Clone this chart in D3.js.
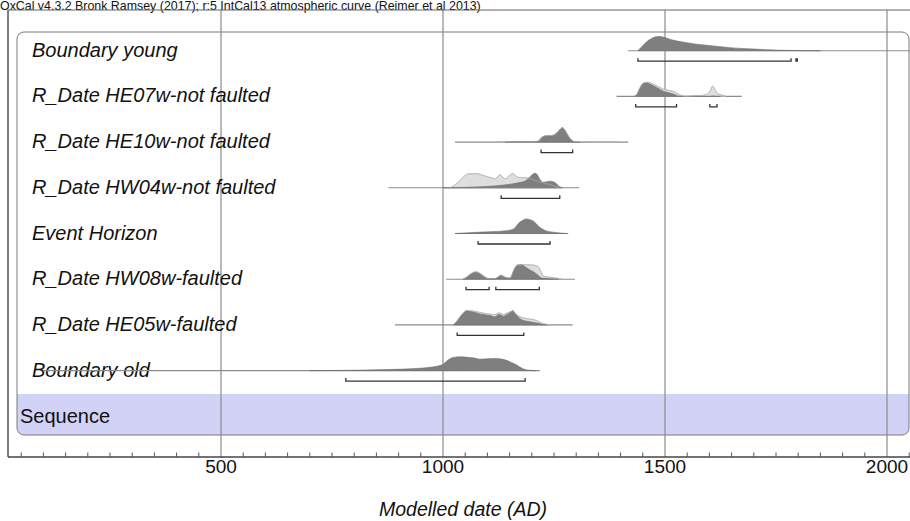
<!DOCTYPE html>
<html>
<head>
<meta charset="utf-8">
<script src="https://cdn.jsdelivr.net/npm/d3@7"></script>
<style>
  html, body { margin: 0; padding: 0; background: #fff; }
  svg { display: block; }
  text { font-family: "Liberation Sans", Arial, sans-serif; }
</style>
</head>
<body>
<svg id="chart" width="910" height="521"></svg>
<script>
// ---------- data ----------
const headerText = "OxCal v4.3.2 Bronk Ramsey (2017); r:5 IntCal13 atmospheric curve (Reimer et al 2013)";
const axisTitle = "Modelled date (AD)";
const tickValues = [500, 1000, 1500, 2000];
const tickLabels = ["500", "1000", "1500", "2000"];
const minorTickStep = 50;
const groupLabel = "Sequence";

const rowLabels = [
  "Boundary young",
  "R_Date HE07w-not faulted",
  "R_Date HE10w-not faulted",
  "R_Date HW04w-not faulted",
  "Event Horizon",
  "R_Date HW08w-faulted",
  "R_Date HE05w-faulted",
  "Boundary old"
];

// baseline extents (years AD)
const baselineExtents = [
  [1417, 2100], [1391, 1673], [1027, 1417], [877, 1307],
  [1027, 1282], [1007, 1297], [892, 1292], [100, 1218]
];

// unmodelled (likelihood) distributions: [year, relative probability]
const priorBoundaryYoung = null;
const priorHE07w = [[1430,0],[1436,12],[1442,50],[1450,90],[1461,98],[1470,90],[1478,79],[1488,63],[1496,50],[1507,43],[1515,38],[1523,29],[1534,11],[1545,0],[1555,0],[1560,3],[1580,6],[1594,14],[1602,40],[1607,71],[1612,50],[1616,29],[1624,12],[1631,7],[1637,0]];
const priorHE10w = [[1120,0],[1150,2],[1190,3],[1212,6],[1218,22],[1225,38],[1235,45],[1245,45],[1256,63],[1263,84],[1269,98],[1274,84],[1278,63],[1287,22],[1297,3],[1340,1],[1400,0]];
const priorHW04w = [[1015,0],[1025,15],[1038,50],[1048,80],[1057,96],[1076,98],[1088,88],[1098,78],[1110,68],[1117,62],[1124,80],[1128,90],[1134,78],[1140,62],[1148,80],[1157,98],[1163,85],[1170,72],[1180,70],[1188,69],[1200,60],[1210,48],[1220,40],[1235,28],[1250,12],[1263,0]];
const priorEvent = null;
const priorHW08w = [[1045,0],[1052,12],[1061,34],[1068,47],[1074,52],[1081,45],[1087,33],[1095,15],[1102,5],[1117,5],[1124,16],[1130,28],[1135,22],[1140,14],[1151,8],[1155,27],[1158,52],[1163,85],[1167,98],[1188,100],[1200,98],[1211,93],[1216,80],[1220,57],[1226,21],[1234,16],[1241,14],[1256,7],[1267,0]];
const priorHE05w = [[1023,0],[1030,21],[1038,55],[1046,85],[1053,100],[1065,97],[1083,86],[1095,79],[1106,74],[1117,70],[1125,82],[1130,80],[1136,71],[1142,79],[1147,86],[1153,92],[1157,95],[1162,83],[1166,71],[1177,52],[1186,45],[1196,39],[1205,36],[1215,24],[1226,9],[1241,0]];
const priorBoundaryOld = null;

// modelled (posterior) distributions
const postBoundaryYoung = [[1439,0],[1447,25],[1458,60],[1470,85],[1484,98],[1495,95],[1504,86],[1525,68],[1549,55],[1570,45],[1594,38],[1620,29],[1646,21],[1670,16],[1698,12],[1736,6],[1760,3],[1788,1.5],[1810,0.5],[1850,0]];
const postHE07w = [[1430,0],[1436,10],[1442,45],[1450,85],[1458,95],[1466,85],[1478,66],[1488,50],[1496,36],[1507,27],[1515,20],[1523,12],[1530,2],[1540,0],[1600,0],[1607,3],[1616,1],[1625,0]];
const postHE10w = [[1140,0],[1160,2],[1190,3],[1214,4],[1219,15],[1222,30],[1233,43],[1245,43],[1256,62],[1263,85],[1269,100],[1274,85],[1278,64],[1287,21],[1297,2],[1308,0]];
const postHW04w = [[1000,0],[1040,2],[1083,7],[1121,14],[1158,28],[1175,38],[1187,50],[1194,70],[1200,88],[1207,100],[1213,88],[1217,64],[1226,38],[1234,42],[1241,46],[1252,36],[1258,20],[1263,7],[1269,0]];
const postEvent = [[1027,0],[1068,7],[1106,12],[1143,19],[1158,29],[1165,50],[1170,70],[1178,88],[1188,100],[1196,95],[1203,86],[1210,68],[1215,50],[1222,35],[1230,21],[1248,9],[1265,3],[1280,0]];
const postHW08w = [[1045,0],[1052,10],[1061,31],[1068,43],[1074,48],[1081,40],[1087,29],[1095,12],[1102,4],[1117,4],[1124,14],[1130,26],[1135,20],[1140,12],[1151,7],[1155,25],[1158,50],[1163,80],[1170,98],[1177,100],[1185,86],[1192,71],[1200,57],[1207,45],[1213,30],[1218,16],[1226,6],[1248,2],[1260,0]];
const postHE05w = [[1023,0],[1030,20],[1038,52],[1046,80],[1053,95],[1065,91],[1083,76],[1095,70],[1106,64],[1117,55],[1125,71],[1130,68],[1136,59],[1142,68],[1147,76],[1153,90],[1157,100],[1162,80],[1166,64],[1177,36],[1186,27],[1196,21],[1215,11],[1226,2],[1235,0]];
const postBoundaryOld = [[700,0],[775,1.5],[873,7],[948,16],[975,24],[993,35],[1000,43],[1008,64],[1015,80],[1023,91],[1038,95],[1050,93],[1060,90],[1068,88],[1083,79],[1098,81],[1113,84],[1128,81],[1143,71],[1158,50],[1168,35],[1173,24],[1185,7],[1196,2],[1210,0]];

const priors = [priorBoundaryYoung, priorHE07w, priorHE10w, priorHW04w, priorEvent, priorHW08w, priorHE05w, priorBoundaryOld];
const posteriors = [postBoundaryYoung, postHE07w, postHE10w, postHW04w, postEvent, postHW08w, postHE05w, postBoundaryOld];

// 95.4% highest posterior density ranges
const hpdRanges = [
  [[1439, 1784], [1795, 1798]],
  [[1434, 1526], [1601, 1617]],
  [[1221, 1292]],
  [[1131, 1263]],
  [[1079, 1241]],
  [[1052, 1104], [1119, 1217]],
  [[1032, 1182]],
  [[781, 1185]]
];

// ---------- layout ----------
const svg = d3.select("#chart");
const W = 910, H = 521;
const axisY = 457;
const frameLeft = 8, frameTop = 10;
const box = { x: 17, y: 32, w: 892, h: 403, r: 7 };
const bandTop = 394;

const x = d3.scaleLinear().domain([500, 2000]).range([221, 887]);
const y = d3.scalePoint().domain(rowLabels).range([50.7, 370.6]);
const h = d3.scaleLinear().domain([0, 100]).range([0, 14.5]);

// header
svg.append("text")
  .attr("x", 0).attr("y", 9.5)
  .attr("font-size", 12.4).attr("fill", "#111")
  .text(headerText);

// inner sequence box
const defs = svg.append("defs");
defs.append("clipPath").attr("id", "boxclip")
  .append("rect")
  .attr("x", box.x).attr("y", box.y).attr("width", box.w).attr("height", box.h)
  .attr("rx", box.r).attr("ry", box.r);

svg.append("rect")
  .attr("x", 0).attr("y", bandTop).attr("width", W).attr("height", box.y + box.h - bandTop)
  .attr("fill", "#d2d2f7")
  .attr("clip-path", "url(#boxclip)");

svg.append("rect")
  .attr("x", box.x).attr("y", box.y).attr("width", box.w).attr("height", box.h)
  .attr("rx", box.r).attr("ry", box.r)
  .attr("fill", "none").attr("stroke", "#7a7a7a").attr("stroke-width", 1);

svg.append("text")
  .attr("x", 20).attr("y", bandTop + 29)
  .attr("font-size", 20).attr("fill", "#111")
  .text(groupLabel);

// gridlines
svg.append("g").selectAll("line").data(tickValues).join("line")
  .attr("x1", d => x(d)).attr("x2", d => x(d))
  .attr("y1", frameTop).attr("y2", axisY)
  .attr("stroke", "#8a8a8a").attr("stroke-width", 1.2);

// outer frame (top and left)
svg.append("line").attr("x1", frameLeft).attr("x2", W).attr("y1", frameTop).attr("y2", frameTop)
  .attr("stroke", "#666").attr("stroke-width", 1.2);
svg.append("line").attr("x1", frameLeft).attr("x2", frameLeft).attr("y1", frameTop).attr("y2", axisY)
  .attr("stroke", "#555").attr("stroke-width", 1.5);

// row labels
svg.append("g").selectAll("text").data(rowLabels).join("text")
  .attr("x", 32).attr("y", d => y(d) + 6)
  .attr("font-size", 20).attr("font-style", "italic").attr("fill", "#111")
  .text(d => d);

// distributions
const area = d3.area()
  .x(d => x(d[0]))
  .y0(0)
  .y1(d => -h(d[1]))
  .curve(d3.curveMonotoneX);
const topLine = d3.line()
  .x(d => x(d[0]))
  .y(d => -h(d[1]))
  .curve(d3.curveMonotoneX);

const rows = svg.append("g").selectAll("g").data(rowLabels).join("g")
  .attr("transform", d => `translate(0,${y(d)})`);

rows.each(function(label, i) {
  const g = d3.select(this);
  const ext = baselineExtents[i];
  // baseline
  g.append("line")
    .attr("x1", x(ext[0])).attr("x2", Math.min(x(ext[1]), W))
    .attr("y1", 0).attr("y2", 0)
    .attr("stroke", "#8c8c8c").attr("stroke-width", 1.1);
  const pr = priors[i];
  const po = posteriors[i];
  if (pr) {
    g.append("path").attr("d", area(pr))
      .attr("fill", "#dedede").attr("stroke", "#a9a9a9").attr("stroke-width", 0.8);
  }
  g.append("path").attr("d", area(po))
    .attr("fill", "#7f7f7f").attr("stroke", "#6e6e6e").attr("stroke-width", 0.6);
  if (pr) {
    g.append("path").attr("d", topLine(pr))
      .attr("fill", "none").attr("stroke", "#bdbdbd").attr("stroke-width", 0.7).attr("opacity", 0.7);
  }
  // HPD brackets
  const by = 10.5;
  hpdRanges[i].forEach(r => {
    const x0 = x(r[0]), x1 = x(r[1]);
    g.append("path")
      .attr("d", `M${x0},${by - 3}V${by}H${x1}V${by - 3}`)
      .attr("fill", "none").attr("stroke", "#333").attr("stroke-width", 1.3);
  });
});

// axis
svg.append("line").attr("x1", frameLeft).attr("x2", W).attr("y1", axisY).attr("y2", axisY)
  .attr("stroke", "#444").attr("stroke-width", 1.5);

const minorTicks = d3.range(50, 2051, minorTickStep).filter(v => !tickValues.includes(v) && x(v) > frameLeft && x(v) < W);
svg.append("g").selectAll("line").data(minorTicks).join("line")
  .attr("x1", d => x(d)).attr("x2", d => x(d))
  .attr("y1", axisY - 4.5).attr("y2", axisY)
  .attr("stroke", "#555").attr("stroke-width", 1);

svg.append("g").selectAll("text").data(tickValues).join("text")
  .attr("x", d => x(d)).attr("y", axisY + 16)
  .attr("text-anchor", "middle")
  .attr("font-size", 19).attr("fill", "#111")
  .text((d, i) => tickLabels[i]);

svg.append("text")
  .attr("x", 463).attr("y", 516)
  .attr("text-anchor", "middle")
  .attr("font-size", 19.5).attr("font-style", "italic").attr("fill", "#111")
  .text(axisTitle);
</script>
</body>
</html>
